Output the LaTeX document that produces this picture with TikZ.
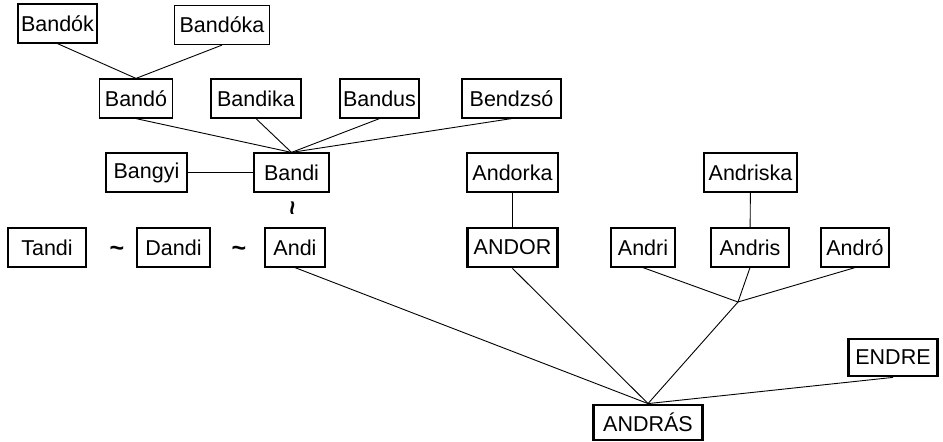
\documentclass[tikz,border=0pt]{standalone}
\usepackage{fontspec}
\setmainfont{Liberation Sans}
\tikzstyle{nm}=[rectangle,draw=black,line width=1.2pt,inner sep=0pt,
  minimum height=39pt,font=\fontsize{21.5}{24}\selectfont]
\tikzstyle{mainnm}=[nm,line width=2.8pt]
\tikzstyle{tl}=[inner sep=0pt,font=\fontsize{25}{24}\selectfont\bfseries]
\tikzstyle{none}=[]

\begin{document}
\begin{tikzpicture}[x=1pt, y=-1pt, line width=0.9pt]
		\useasboundingbox (0, 0) rectangle (943, 442);
		\node [style=nm, minimum width=79pt] (bandok) at (57.5, 23.5) {Bandók};
		\node [style=nm, minimum width=95pt] (bandoka) at (222, 25) {Bandóka};
		\node [style=nm, minimum width=73pt] (bando) at (136, 98.5) {Bandó};
		\node [style=nm, minimum width=90pt] (bandika) at (256, 98.5) {Bandika};
		\node [style=nm, minimum width=79pt] (bandus) at (379.5, 98.5) {Bandus};
		\node [style=nm, minimum width=99pt] (bendzso) at (511.5, 98.5) {Bendzsó};
		\node [style=nm, minimum width=81pt] (bangyi) at (146.5, 172.5) {Bangyi};
		\node [style=nm, minimum width=75pt] (bandi) at (291.5, 172.5) {Bandi};
		\node [style=tl, rotate=90] (t0) at (295.5, 208) {\textasciitilde};
		\node [style=nm, minimum width=78pt] (tandi) at (47, 247.5) {Tandi};
		\node [style=tl, yshift=-4pt] (t1) at (117, 247.5) {\textasciitilde};
		\node [style=nm, minimum width=73pt] (dandi) at (173.5, 247.5) {Dandi};
		\node [style=tl, yshift=-4pt] (t2) at (239, 247.5) {\textasciitilde};
		\node [style=nm, minimum width=60pt] (andi) at (295, 247.5) {Andi};
		\node [style=nm, minimum width=91pt] (andorka) at (512.5, 172.5) {Andorka};
		\node [style=mainnm, minimum width=90pt] (andor) at (512.5, 247.5) {ANDOR};
		\node [style=nm, minimum width=64pt] (andri) at (643, 247.5) {Andri};
		\node [style=nm, minimum width=93pt] (andriska) at (750.5, 172.5) {Andriska};
		\node [style=nm, minimum width=78pt] (andris) at (750, 247.5) {Andris};
		\node [style=nm, minimum width=68pt] (andro) at (855, 247.5) {Andró};
		\node [style=mainnm, minimum width=89pt, minimum height=37pt] (endre) at (893, 357.5) {ENDRE};
		\node [style=mainnm, minimum width=109pt, minimum height=35pt] (andras) at (648, 422.5) {ANDRÁS};
		\coordinate (j) at (738, 302);
		\draw (bandok.south) to (bando.north);
		\draw (bandoka.south) to (bando.north);
		\draw (bando.south) to (bandi.north);
		\draw (bandika.south) to (bandi.north);
		\draw (bandus.south) to (bandi.north);
		\draw (bendzso.south) to (bandi.north);
		\draw (bangyi) to (bandi);
		\draw (andorka) to (andor);
		\draw (andriska) to (andris);
		\draw (andri.south) to (j);
		\draw (andris.south) to (j);
		\draw (andro.south) to (j);
		\draw (j) to (andras.north);
		\draw (andor.south) to (andras.north);
		\draw (andi.south) to (andras.north);
		\draw (endre.south) to (andras.north);
\end{tikzpicture}
\end{document}
